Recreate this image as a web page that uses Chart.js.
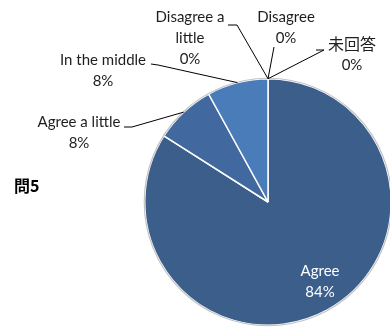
<!DOCTYPE html>
<html>
<head>
<meta charset="utf-8">
<script src="https://cdn.jsdelivr.net/npm/chart.js@4.4.1/dist/chart.umd.min.js"></script>
<style>
  html, body { margin: 0; padding: 0; background: #fff; overflow: hidden; }
  #frame { position: relative; width: 390px; height: 327px; overflow: hidden; }
  #wrap { position: absolute; left: 0; top: 0; width: 400px; height: 327px; }
</style>
</head>
<body>
<div id="frame">
  <div id="wrap"><canvas id="pie"></canvas></div>
</div>
<script>
const categories = ["Agree", "Agree a little", "In the middle", "Disagree a little", "Disagree", "未回答"];
const shares = [84, 8, 8, 0, 0, 0];
const sliceColors = ["#3b5e8b", "#4169a0", "#4a7cb9", "#4f81bd", "#4f81bd", "#4f81bd"];
const title = "問5";

// text lines per slice (the percentage line is appended from shares)
const labelLines = [["Agree"], ["Agree a little"], ["In the middle"], ["Disagree a", "little"], ["Disagree"], ["未回答"]];
// label centre (first line) and leader path points, ending at the slice edge
const labelPlaces = [
  { x: 320, y: 271, inside: true },
  { x: 79, y: 122, path: [[124, 127], [132, 127]] },
  { x: 103, y: 60, path: [[151, 64], [158, 65]] },
  { x: 190, y: 17, path: [[228, 25], [237, 25]] },
  { x: 286, y: 17, path: [[274, 47]] },
  { x: 352, y: 44, path: [[316, 50], [324, 50]], cjk: true }
];

const FONT = "15px Lato, 'Noto Sans CJK JP', sans-serif";
const CJK_FONT = "16px 'Noto Sans CJK JP', sans-serif";
const LINE_H = 21;

const pieLabels = {
  id: "pieLabels",
  afterDatasetsDraw(chart) {
    const ctx = chart.ctx;
    const arcs = chart.getDatasetMeta(0).data;
    ctx.save();

    // soft grey rim round the pie
    const a0 = arcs[0];
    ctx.beginPath();
    ctx.arc(a0.x, a0.y, a0.outerRadius + 0.5, 0, Math.PI * 2);
    ctx.strokeStyle = "rgba(170,170,170,0.7)";
    ctx.lineWidth = 1.2;
    ctx.stroke();

    ctx.textAlign = "center";
    ctx.textBaseline = "middle";
    arcs.forEach((arc, i) => {
      const p = labelPlaces[i];
      const lines = labelLines[i].concat([shares[i] + "%"]);
      ctx.fillStyle = p.inside ? "#ffffff" : "#1e1e1e";
      lines.forEach((t, k) => {
        ctx.font = (p.cjk && k === 0) ? CJK_FONT : FONT;
        ctx.fillText(t, p.x, p.y + k * LINE_H);
      });
      if (p.path) {
        const mid = (arc.startAngle + arc.endAngle) / 2;
        const ex = arc.x + Math.cos(mid) * arc.outerRadius;
        const ey = arc.y + Math.sin(mid) * arc.outerRadius;
        ctx.beginPath();
        ctx.moveTo(p.path[0][0], p.path[0][1]);
        for (let k = 1; k < p.path.length; k++) ctx.lineTo(p.path[k][0], p.path[k][1]);
        ctx.lineTo(ex, ey);
        ctx.strokeStyle = "#000000";
        ctx.lineWidth = 1;
        ctx.stroke();
      }
    });

    ctx.font = "bold 16px 'Noto Sans CJK JP', sans-serif";
    ctx.textAlign = "left";
    ctx.fillStyle = "#000000";
    ctx.fillText(title, 14, 186);
    ctx.restore();
  }
};

new Chart(document.getElementById("pie"), {
  type: "pie",
  data: {
    labels: categories,
    datasets: [{
      data: shares,
      backgroundColor: sliceColors,
      borderColor: "#ffffff",
      borderWidth: 1.5
    }]
  },
  options: {
    responsive: true,
    maintainAspectRatio: false,
    animation: false,
    layout: { padding: { left: 144, top: 77, right: 8, bottom: 0 } },
    plugins: {
      legend: { display: false },
      tooltip: { enabled: false }
    }
  },
  plugins: [pieLabels]
});
</script>
</body>
</html>
